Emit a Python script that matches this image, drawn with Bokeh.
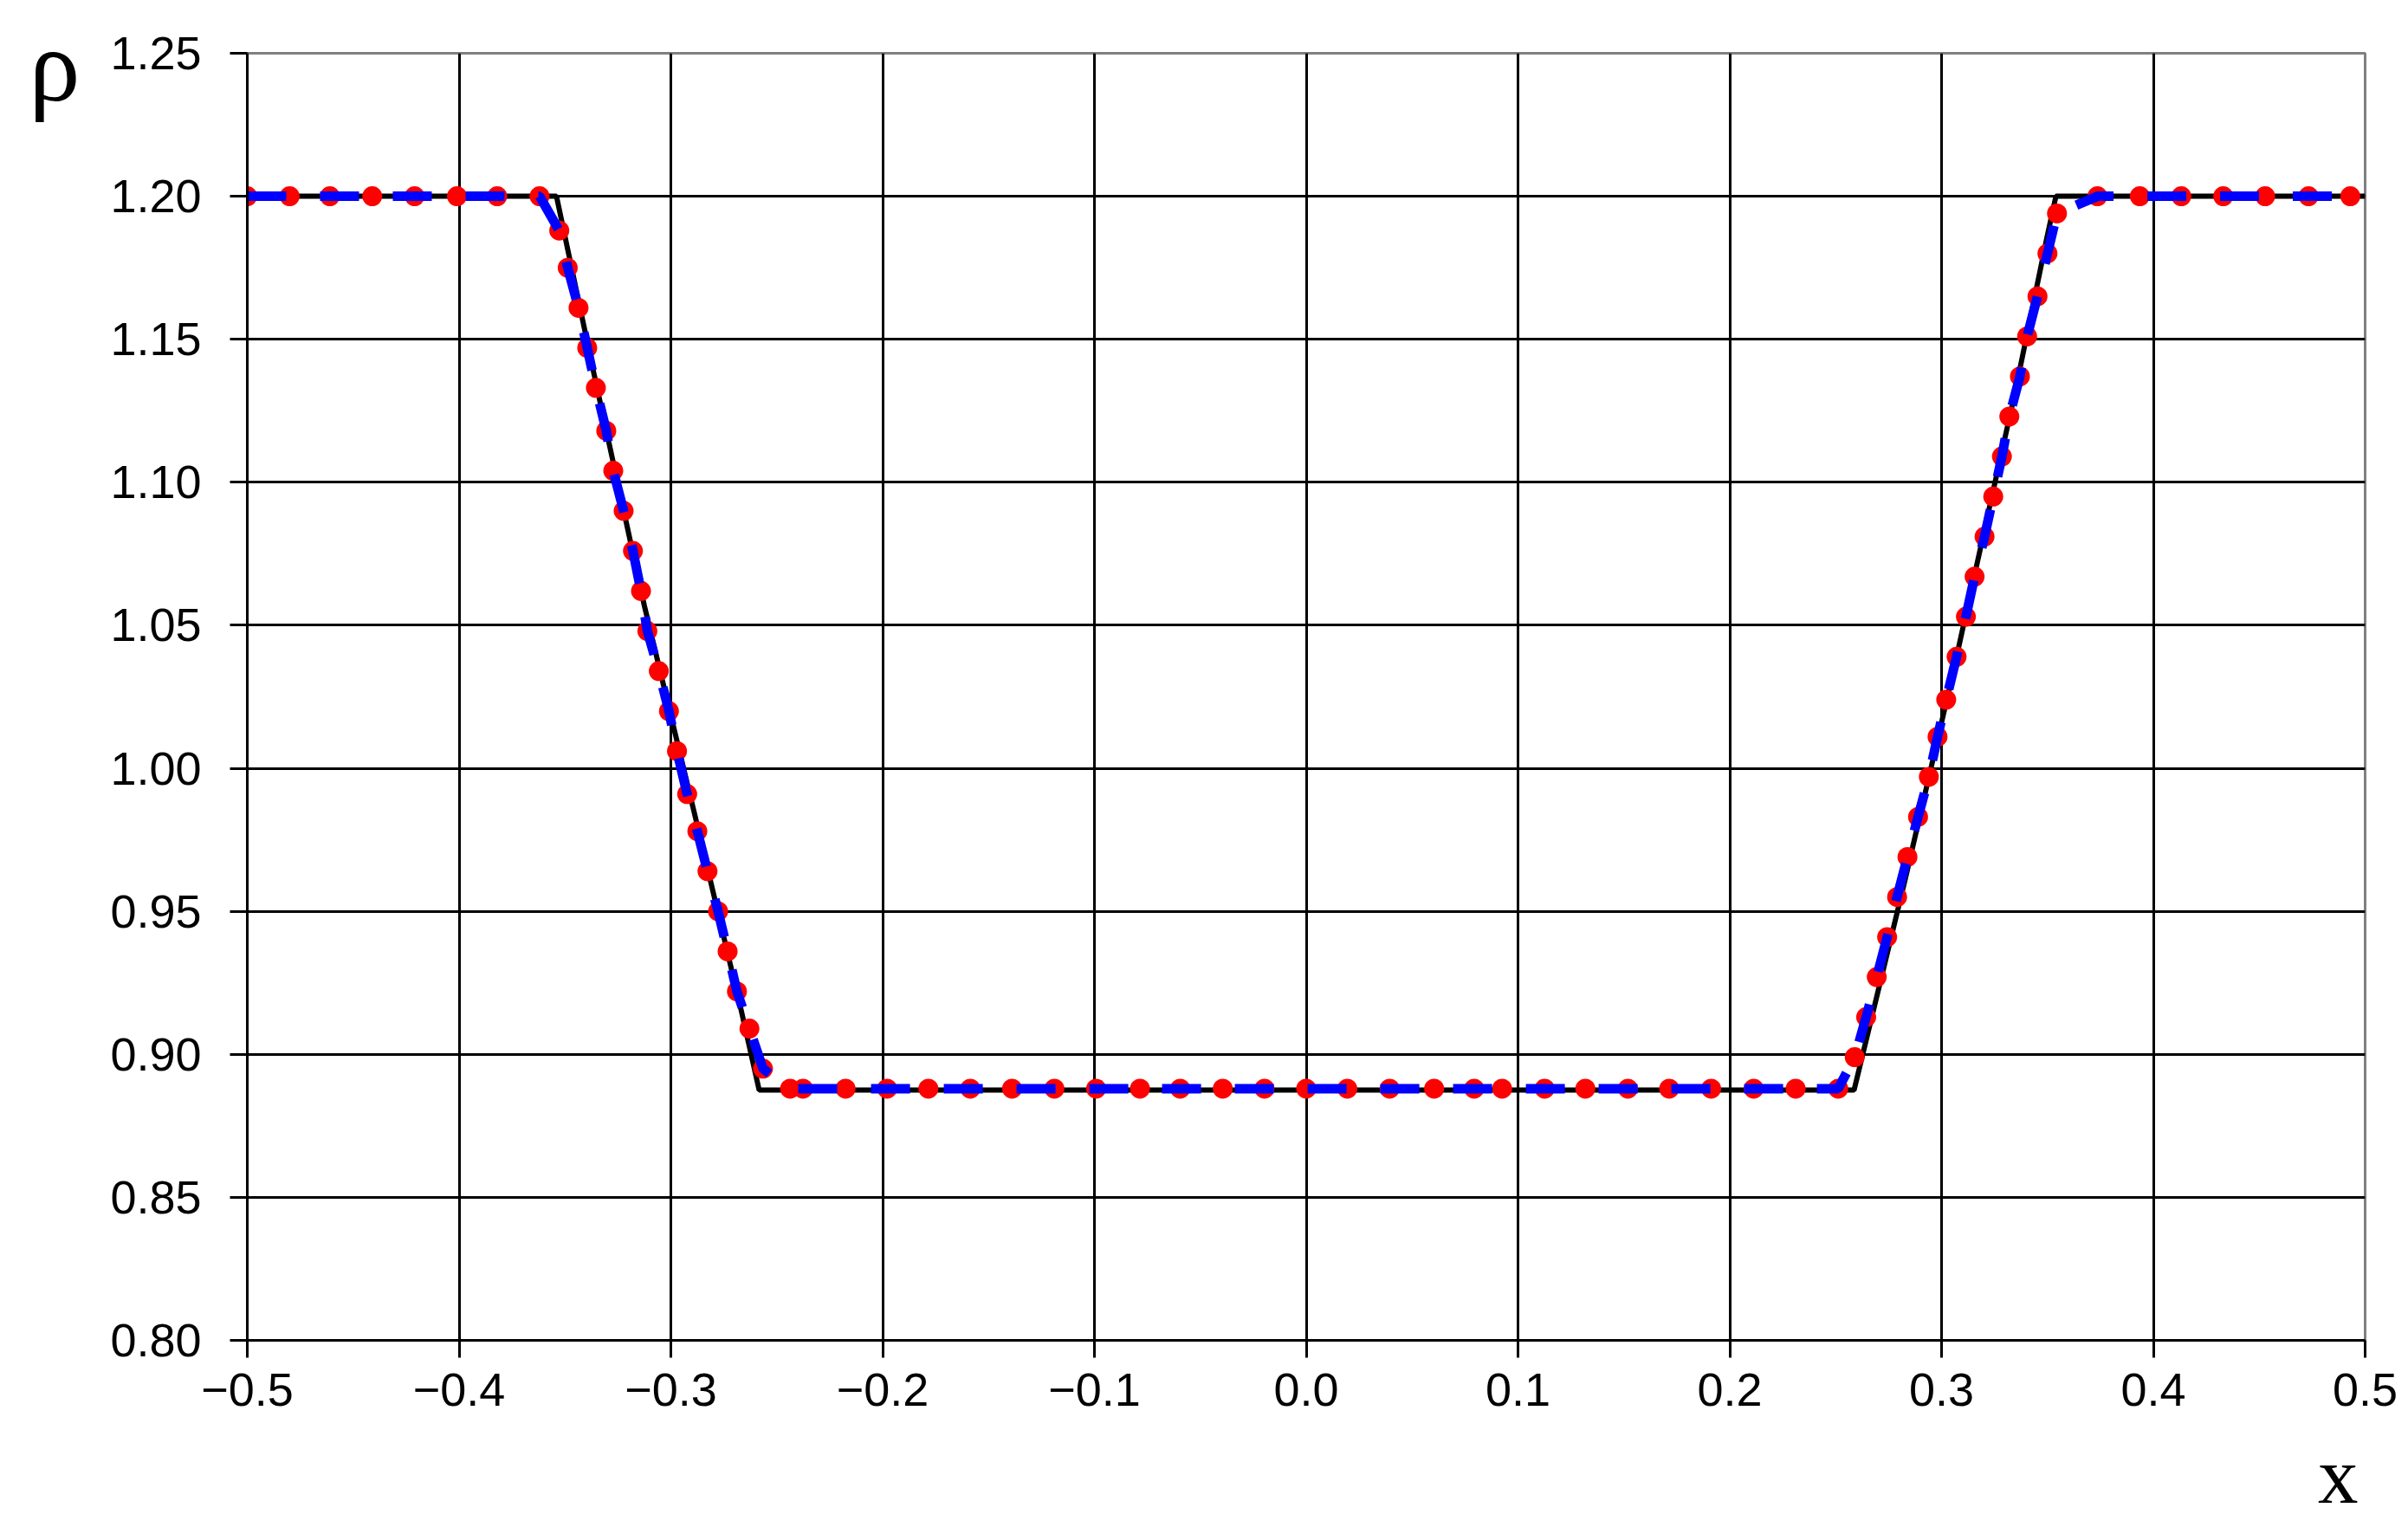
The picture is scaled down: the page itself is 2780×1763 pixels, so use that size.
from bokeh.plotting import figure
from bokeh.models import FixedTicker, CustomJSTickFormatter, Title
from bokeh.embed import file_html
from bokeh.resources import INLINE

# exact solution (black line)
exact_x = [-0.5, -0.354, -0.3363, -0.3125, -0.2892, -0.2667, -0.2583,
           0.2587, 0.2828, 0.3053, 0.3217, 0.3347, 0.3497, 0.354, 0.5]
exact_rho = [1.2, 1.2, 1.1379, 1.0568, 0.9853, 0.9151, 0.8875,
             0.8875, 0.9611, 1.033, 1.0882, 1.1314, 1.1854, 1.2, 1.2]

# numerical solution (red dots)
num_x = [-0.500, -0.480, -0.461, -0.441, -0.421, -0.401, -0.382, -0.362,
         -0.3527, -0.3487, -0.3436, -0.3395, -0.3354, -0.3305, -0.3272, -0.3223,
         -0.3179, -0.3141, -0.3111, -0.3057, -0.3009, -0.2971, -0.2923, -0.2875,
         -0.2827, -0.2777, -0.2732, -0.2688, -0.2629, -0.2565,
         -0.2437, -0.2376, -0.2175, -0.1979, -0.1784, -0.1586, -0.1389, -0.1189,
         -0.0992, -0.0785, -0.0595, -0.0394, -0.0197, 0.0000, 0.0194, 0.0394,
         0.0604, 0.0793, 0.0925, 0.1126, 0.1318, 0.1519, 0.1714, 0.1912,
         0.2113, 0.2311, 0.2512,
         0.2590, 0.2644, 0.2694, 0.2743, 0.2790, 0.2839, 0.2889, 0.2940,
         0.2981, 0.3022, 0.3071, 0.3115, 0.3156, 0.3203, 0.3244, 0.3285,
         0.3320, 0.3370, 0.3404, 0.3453, 0.3500, 0.3545,
         0.3736, 0.3936, 0.4132, 0.4330, 0.4528, 0.4733, 0.4930]
num_rho = [1.200, 1.200, 1.200, 1.200, 1.200, 1.200, 1.200, 1.200,
           1.188, 1.175, 1.161, 1.147, 1.133, 1.118, 1.104, 1.090,
           1.076, 1.062, 1.048, 1.034, 1.020, 1.006, 0.991, 0.978,
           0.964, 0.950, 0.936, 0.922, 0.909, 0.895,
           0.888, 0.888, 0.888, 0.888, 0.888, 0.888, 0.888, 0.888,
           0.888, 0.888, 0.888, 0.888, 0.888, 0.888, 0.888, 0.888,
           0.888, 0.888, 0.888, 0.888, 0.888, 0.888, 0.888, 0.888,
           0.888, 0.888, 0.888,
           0.899, 0.913, 0.927, 0.941, 0.955, 0.969, 0.983, 0.997,
           1.011, 1.024, 1.039, 1.053, 1.067, 1.081, 1.095, 1.109,
           1.123, 1.137, 1.151, 1.165, 1.180, 1.194,
           1.200, 1.200, 1.200, 1.200, 1.200, 1.200, 1.200]

# second scheme (blue dashed), runs to the right edge
blue_x = num_x + [0.5]
blue_rho = num_rho + [1.2]

x_ticks = [-0.5, -0.4, -0.3, -0.2, -0.1, 0.0, 0.1, 0.2, 0.3, 0.4, 0.5]
y_ticks = [0.80, 0.85, 0.90, 0.95, 1.00, 1.05, 1.10, 1.15, 1.20, 1.25]

p = figure(
    width=2780,
    height=1763,
    x_range=(-0.5, 0.5),
    y_range=(0.8, 1.25),
    output_backend="svg",
    toolbar_location=None,
    min_border_left=285,
    min_border_right=50,
    min_border_top=61,
    min_border_bottom=216,
)
p.background_fill_color = "white"
p.border_fill_color = "white"
p.outline_line_color = "#808080"
p.outline_line_width = 3

p.xaxis.ticker = FixedTicker(ticks=x_ticks)
p.yaxis.ticker = FixedTicker(ticks=y_ticks)
p.xgrid.ticker = FixedTicker(ticks=x_ticks[:-1])
p.ygrid.ticker = FixedTicker(ticks=y_ticks[:-1])
p.xaxis.formatter = CustomJSTickFormatter(
    code="return (tick < -1e-9 ? '\u2212' : '') + Math.abs(tick).toFixed(1);")
p.yaxis.formatter = CustomJSTickFormatter(code="return tick.toFixed(2);")

for g in (p.xgrid, p.ygrid):
    g.grid_line_color = "black"
    g.grid_line_width = 3

for ax in (p.xaxis, p.yaxis):
    ax.axis_line_color = "black"
    ax.axis_line_width = 3
    ax.major_tick_line_color = "black"
    ax.major_tick_line_width = 3
    ax.major_tick_out = 20
    ax.major_tick_in = 0
    ax.minor_tick_line_color = None
    ax.major_label_text_font = "Liberation Sans"
    ax.major_label_text_font_size = "54px"
    ax.major_label_text_color = "black"
p.yaxis.major_label_standoff = 33
p.xaxis.major_label_standoff = 18

# rho at the top of the y axis (empty first line nudges it down a little)
yax = p.yaxis[0]
yax.axis_label = "\n\u03c1"
yax.axis_label_text_font = "Liberation Serif"
yax.axis_label_text_font_style = "normal"
yax.axis_label_text_color = "black"
yax.axis_label_text_font_size = "118px"
yax.axis_label_text_line_height = 0.23
yax.axis_label_standoff = 32
if hasattr(yax, "axis_label_orientation"):
    yax.axis_label_orientation = "horizontal"
if hasattr(yax, "axis_label_align"):
    yax.axis_label_align = "end"

# x at the bottom right, under the tick labels (same nudge trick)
p.add_layout(Title(text="\nx", align="right", offset=8, standoff=0,
                   text_font="Liberation Serif", text_font_style="normal",
                   text_font_size="93px", text_color="black",
                   text_line_height=0.24), "below")

p.line(exact_x, exact_rho, color="black", line_width=6)
p.scatter(num_x, num_rho, size=23, color="#FF0000", line_color=None)
p.line(blue_x, blue_rho, color="#0000FF", line_width=11, line_dash="45 39")

open("out.html", "w").write(file_html(p, INLINE))
